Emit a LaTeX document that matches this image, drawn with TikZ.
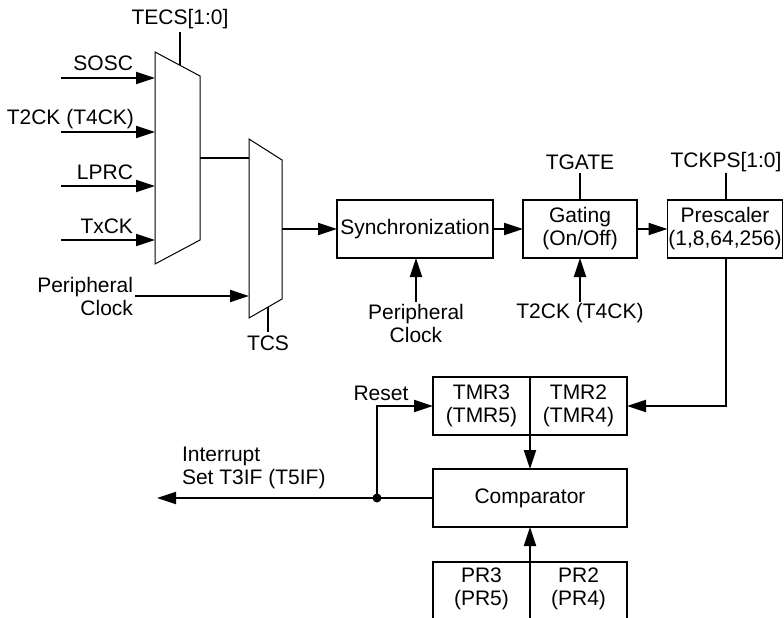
\documentclass[tikz,border=0pt]{standalone}
\usepackage{fontspec}
\setmainfont{Liberation Sans}
\usetikzlibrary{arrows.meta}
\begin{document}
\begin{tikzpicture}[x=1pt,y=-1pt,
  every node/.style={font=\fontsize{21}{23}\selectfont, inner sep=0pt, outer sep=0pt},
  box/.style={draw, line width=1.8pt, align=center},
  txt/.style={align=center},
  conn/.style={line width=2pt},
  arr/.style={conn, -{Triangle[length=19pt,width=12pt]}},
  mux/.style={draw, line width=1pt}]
\useasboundingbox (0,0) rectangle (784,618);

% multiplexers
\coordinate (m1a) at (155,52); \coordinate (m1b) at (200,76);
\coordinate (m1c) at (200,240); \coordinate (m1d) at (155,264);
\draw[mux] (m1a) -- (m1b) -- (m1c) -- (m1d) -- cycle;
\coordinate (m2a) at (249,139); \coordinate (m2b) at (282,160);
\coordinate (m2c) at (282,299); \coordinate (m2d) at (249,318);
\draw[mux] (m2a) -- (m2b) -- (m2c) -- (m2d) -- cycle;

% boxes
\node[box, minimum width=156pt, minimum height=58pt] (sync) at (415,229) {Synchronization};
\node[box, minimum width=114pt, minimum height=58pt] (gate) at (580,229) {Gating\\(On/Off)};
\node[box, minimum width=115pt, minimum height=58pt] (presc) at (725,229) {Prescaler\\(1,8,64,256)};
\node[box, minimum width=97pt, minimum height=58pt] (tmr3) at (481.5,406) {TMR3\\(TMR5)};
\node[box, minimum width=97pt, minimum height=58pt] (tmr2) at (578.5,406) {TMR2\\(TMR4)};
\node[box, minimum width=194pt, minimum height=58pt] (comp) at (530,498) {Comparator};
\node[txt] (pr3) at (481.5,589) {PR3\\(PR5)};
\node[txt] (pr2) at (578.5,589) {PR2\\(PR4)};
\coordinate (prtl) at (433,562); \coordinate (prtr) at (627,562);
\coordinate (prtm) at (530,562);
\draw[line width=1.8pt] (433,625) -- (prtl) -- (prtr) -- (627,625);
\draw[line width=1.8pt] (prtm) -- (530,625);

% inputs to mux 1
\coordinate (s1) at (61,78); \coordinate (e1) at (155,78);
\coordinate (s2) at (61,132); \coordinate (e2) at (155,132);
\coordinate (s3) at (61,186); \coordinate (e3) at (155,186);
\coordinate (s4) at (61,240); \coordinate (e4) at (155,240);
\draw[arr] (s1) -- (e1);
\draw[arr] (s2) -- (e2);
\draw[arr] (s3) -- (e3);
\draw[arr] (s4) -- (e4);
\node[anchor=east] (lsosc) at (133,63) {SOSC};
\node[anchor=east] (lt2ck) at (134,119) {T2CK (T4CK)};
\node[anchor=east] (llprc) at (133,172) {LPRC};
\node[anchor=east] (ltxck) at (133,226) {TxCK};

% TECS select
\node (tecs) at (180,19) {TECS[1:0]};
\coordinate (tecsa) at (180,32); \coordinate (tecsb) at (180,65.3);
\draw[conn] (tecsa) -- (tecsb);

% mux1 -> mux2
\coordinate (m1o) at (200,158); \coordinate (m2i) at (249,158);
\draw[conn] (m1o) -- (m2i);

% peripheral clock into mux2
\node[anchor=east, align=right] (pclk1) at (133,296) {Peripheral\\Clock};
\coordinate (pc1s) at (135,296); \coordinate (pc1e) at (249,296);
\draw[arr] (pc1s) -- (pc1e);

% TCS
\coordinate (tcsa) at (268,307.1); \coordinate (tcsb) at (268,332);
\draw[conn] (tcsa) -- (tcsb);
\node (tcs) at (268,343) {TCS};

% main chain
\coordinate (m2o) at (282,229);
\draw[arr] (m2o) -- (sync.west);
\draw[arr] (sync.east) -- (gate.west);
\draw[arr] (gate.east) -- (presc.west);

% TGATE, TCKPS
\node (tgate) at (580,162) {TGATE};
\coordinate (tga) at (580,173);
\draw[conn] (tga) -- (gate.north);
\node (tckps) at (726,162) {TCKPS[1:0]};
\coordinate (tcka) at (726,173); \coordinate (tckb) at (726,200);
\draw[conn] (tcka) -- (tckb);

% inputs from below
\node[txt] (pclk2) at (416,323.5) {Peripheral\\Clock};
\coordinate (pc2s) at (416,302); \coordinate (pc2e) at (416,258);
\draw[arr] (pc2s) -- (pc2e);
\node (t2ck2) at (580,313) {T2CK (T4CK)};
\coordinate (t2s) at (580,302);
\draw[arr] (t2s) -- (gate.south);

% prescaler -> timer
\coordinate (pso) at (726,258);
\draw[arr] (pso) |- (tmr2.east);

% timer -> comparator, PR -> comparator
\coordinate (tmrb) at (530,435); \coordinate (compt) at (530,469);
\draw[arr] (tmrb) -- (compt);
\coordinate (compb) at (530,527);
\draw[arr] (prtm) -- (compb);

% comparator output
\coordinate (dot) at (377,498);
\coordinate (intend) at (157,498);
\draw[arr] (comp.west) -- (intend);
\fill (dot) circle (4.5pt);
\draw[arr] (dot) |- (tmr3.west);
\node (reset) at (381,393) {Reset};
\node[anchor=west, align=left] (intr) at (182,467.5) {Interrupt\\Set T3IF (T5IF)};
\end{tikzpicture}
\end{document}
